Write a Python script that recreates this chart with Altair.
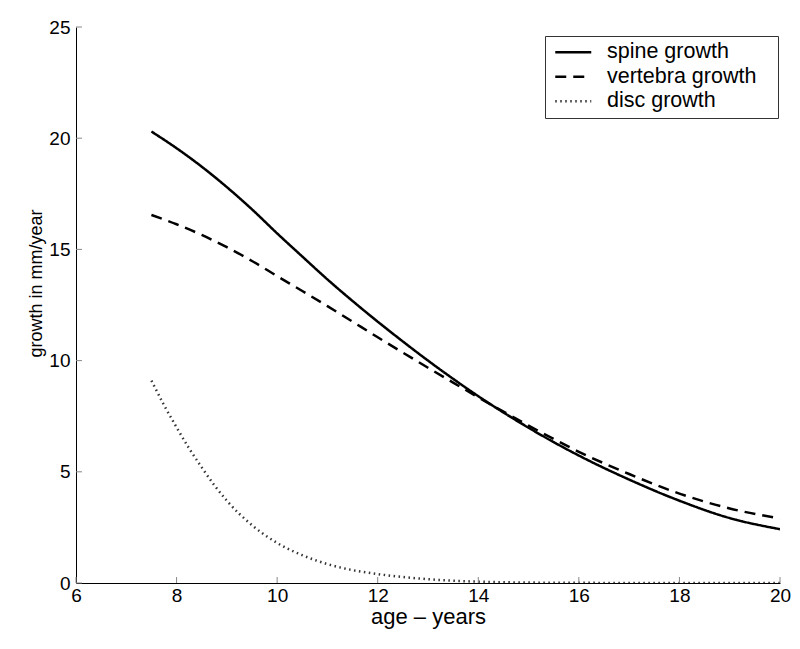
import altair as alt
import pandas as pd

# ---- data ----
ages = [7.5, 8, 8.5, 9, 9.5, 10, 10.5, 11, 11.5, 12, 12.5, 13, 13.5, 14,
        15, 16, 17, 18, 19, 20]
spine = [20.3, 19.55, 18.72, 17.8, 16.8, 15.72, 14.68, 13.65, 12.68, 11.75,
         10.86, 10.0, 9.18, 8.4, 6.98, 5.73, 4.65, 3.7, 2.92, 2.42]
vertebra = [16.55, 16.13, 15.65, 15.1, 14.48, 13.8, 13.13, 12.45, 11.75, 11.05,
            10.36, 9.68, 9.01, 8.35, 7.08, 5.9, 4.9, 4.02, 3.35, 2.9]
disc_ages = [7.5, 7.75, 8, 8.25, 8.5, 8.75, 9, 9.5, 10, 10.5, 11, 11.5, 12,
             12.5, 13, 13.5, 14, 15, 16, 17, 18, 19, 20]
disc = [9.1, 8.0, 7.0, 6.05, 5.2, 4.4, 3.7, 2.6, 1.8, 1.25, 0.85, 0.58, 0.4,
        0.27, 0.17, 0.1, 0.06, 0.02, 0.01, 0.0, 0.0, 0.0, 0.0]

series_names = ["spine growth", "vertebra growth", "disc growth"]
x_ticks = [6, 8, 10, 12, 14, 16, 18, 20]
y_ticks = [0, 5, 10, 15, 20, 25]

rows = []
for a, v in zip(ages, spine):
    rows.append({"age": a, "growth": v, "series": series_names[0]})
for a, v in zip(ages, vertebra):
    rows.append({"age": a, "growth": v, "series": series_names[1]})
for a, v in zip(disc_ages, disc):
    rows.append({"age": a, "growth": v, "series": series_names[2]})
df = pd.DataFrame(rows)

FONT = "Liberation Sans"
W, H = 704, 556

xscale = alt.Scale(domain=[6, 20], nice=False, zero=False)
yscale = alt.Scale(domain=[0, 25], nice=False)

lines = alt.Chart(df).mark_line(interpolate="monotone", clip=True).encode(
    x=alt.X("age:Q", scale=xscale,
            axis=alt.Axis(title="age – years", values=x_ticks, format="d",
                          ticks=False, tickSize=0, grid=False,
                          domainColor="#000000", domainWidth=1,
                          labelFont=FONT, labelFontSize=19, labelColor="#000000",
                          labelPadding=3, labelFlush=False, labelOverlap=False,
                          titleFont=FONT, titleFontSize=22, titleFontWeight="normal",
                          titleColor="#000000", titlePadding=1)),
    y=alt.Y("growth:Q", scale=yscale,
            axis=alt.Axis(title="growth in mm/year", values=y_ticks, format="d",
                          ticks=False, tickSize=0, grid=False,
                          domainColor="#000000", domainWidth=1,
                          labelFont=FONT, labelFontSize=19, labelColor="#000000",
                          labelPadding=6, labelFlush=False, labelOverlap=False,
                          titleFont=FONT, titleFontSize=18, titleFontWeight="normal",
                          titleColor="#000000", titleAngle=270,
                          titleBaseline="bottom", titleAlign="center",
                          titleX=-31, titleY=256)),
    color=alt.Color("series:N",
                    scale=alt.Scale(domain=series_names,
                                    range=["#000000", "#000000", "#333333"]),
                    legend=alt.Legend(title=None, orient="none",
                                      legendX=469, legendY=9,
                                      symbolType="M-3,0H3", symbolSize=144,
                                      symbolOffset=12, labelOffset=23,
                                      labelFont=FONT, labelFontSize=21.5,
                                      labelColor="#000000",
                                      labelExpr="datum.label + '\u2800'",
                                      rowPadding=1.5, padding=5.5,
                                      strokeColor="#333333", fillColor="#ffffff",
                                      labelLimit=400)),
    strokeDash=alt.StrokeDash("series:N",
                              scale=alt.Scale(domain=series_names,
                                              range=[[1, 0], [11, 7], [1.5, 3.5]]),
                              legend=None),
    strokeWidth=alt.StrokeWidth("series:N",
                                scale=alt.Scale(domain=series_names,
                                                range=[2.5, 2.5, 1.8]),
                                legend=None),
    order=alt.Order("age:Q"),
)

xt_df = pd.DataFrame({"age": x_ticks})
yt_df = pd.DataFrame({"growth": y_ticks})

xticks = alt.Chart(xt_df).mark_rule(color="#888888", strokeWidth=1).encode(
    x=alt.X("age:Q", scale=xscale),
    y=alt.value(H),
    y2=alt.value(H - 6),
)
yticks = alt.Chart(yt_df).mark_rule(color="#888888", strokeWidth=1).encode(
    y=alt.Y("growth:Q", scale=yscale),
    x=alt.value(0),
    x2=alt.value(6),
)

chart = alt.layer(lines, xticks, yticks).properties(
    width=W, height=H,
    autosize=alt.AutoSizeParams(type="none"),
    padding={"left": 68, "top": 19, "right": 12, "bottom": 58},
    background="#ffffff",
).configure_view(stroke=None)

chart.save("out.html", embed_options={"renderer": "svg", "actions": False})
